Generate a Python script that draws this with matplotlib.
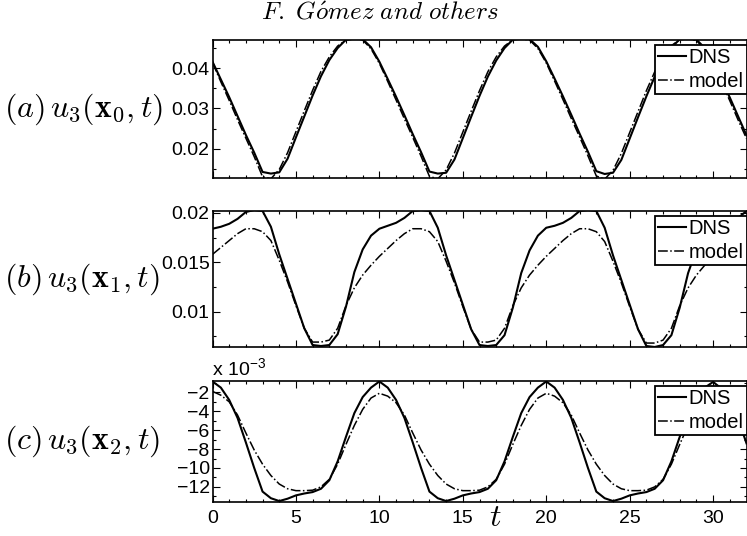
import numpy as np
import matplotlib
matplotlib.use("Agg")
import matplotlib.pyplot as plt
from matplotlib.ticker import MultipleLocator, FormatStrFormatter, FuncFormatter

plt.rcParams['font.family'] = ['Liberation Sans', 'DejaVu Sans']
plt.rcParams['mathtext.fontset'] = 'cm'
plt.rcParams['axes.unicode_minus'] = True

# time samples
t = np.arange(0, 32.5, 0.5)

# (a) probe x0
dns_a = [0.0416,
         0.0372, 0.0328, 0.0281, 0.0234, 0.0190, 0.0142, 0.0138, 0.0141, 0.0175, 0.0228,
         0.0280, 0.0332, 0.0380, 0.0420, 0.0450, 0.0471, 0.0473, 0.0472, 0.0452, 0.0416,
         0.0373, 0.0329, 0.0283, 0.0236, 0.0191, 0.0143, 0.0138, 0.0140, 0.0173, 0.0226,
         0.0279, 0.0331, 0.0379, 0.0419, 0.0450, 0.0471, 0.0473, 0.0472, 0.0453, 0.0417,
         0.0374, 0.0330, 0.0284, 0.0237, 0.0192, 0.0144, 0.0137, 0.0140, 0.0172, 0.0225,
         0.0278, 0.0330, 0.0379, 0.0420, 0.0451, 0.0472, 0.0473, 0.0471, 0.0450, 0.0414,
         0.0371, 0.0327, 0.0280, 0.0233]
model_a = [0.0414,
           0.0366, 0.0320, 0.0272, 0.0226, 0.0180, 0.0130, 0.0125, 0.0148, 0.0190, 0.0242,
           0.0294, 0.0345, 0.0392, 0.0428, 0.0455, 0.0470, 0.0473, 0.0470, 0.0448, 0.0412,
           0.0367, 0.0321, 0.0274, 0.0228, 0.0181, 0.0131, 0.0125, 0.0147, 0.0189, 0.0241,
           0.0293, 0.0344, 0.0391, 0.0428, 0.0455, 0.0471, 0.0473, 0.0470, 0.0449, 0.0413,
           0.0368, 0.0322, 0.0275, 0.0229, 0.0182, 0.0132, 0.0124, 0.0146, 0.0188, 0.0240,
           0.0292, 0.0344, 0.0391, 0.0429, 0.0456, 0.0471, 0.0473, 0.0469, 0.0446, 0.0410,
           0.0365, 0.0319, 0.0271, 0.0225]

# (b) probe x1
dns_b = [0.0184,
         0.0186, 0.0189, 0.0194, 0.0201, 0.0203, 0.0202, 0.0186, 0.0158, 0.0133, 0.0108,
         0.0083, 0.0066, 0.0065, 0.0066, 0.0077, 0.0105, 0.0140, 0.0163, 0.0177, 0.0184,
         0.0187, 0.0190, 0.0195, 0.0202, 0.0203, 0.0202, 0.0185, 0.0157, 0.0132, 0.0107,
         0.0082, 0.0066, 0.0065, 0.0066, 0.0076, 0.0104, 0.0139, 0.0162, 0.0177, 0.0185,
         0.0187, 0.0190, 0.0195, 0.0202, 0.0203, 0.0202, 0.0185, 0.0157, 0.0132, 0.0107,
         0.0082, 0.0065, 0.0064, 0.0066, 0.0076, 0.0104, 0.0139, 0.0163, 0.0178, 0.0185,
         0.0187, 0.0190, 0.0195, 0.0202]
model_b = [0.0158,
           0.0165, 0.0172, 0.0179, 0.0184, 0.0184, 0.0181, 0.0172, 0.0152, 0.0130, 0.0106,
           0.0083, 0.0069, 0.0069, 0.0071, 0.0083, 0.0106, 0.0124, 0.0137, 0.0147, 0.0156,
           0.0164, 0.0172, 0.0179, 0.0184, 0.0184, 0.0181, 0.0171, 0.0151, 0.0129, 0.0105,
           0.0082, 0.0069, 0.0069, 0.0071, 0.0083, 0.0106, 0.0124, 0.0137, 0.0147, 0.0156,
           0.0164, 0.0172, 0.0179, 0.0184, 0.0184, 0.0181, 0.0171, 0.0151, 0.0129, 0.0105,
           0.0082, 0.0068, 0.0068, 0.0071, 0.0083, 0.0106, 0.0124, 0.0137, 0.0147, 0.0156,
           0.0164, 0.0172, 0.0179, 0.0184]

# (c) probe x2, in units of 1e-3
dns_c = [-0.85,
         -1.5, -2.8, -4.7, -7.3, -10.0, -12.5, -13.2, -13.5, -13.25, -12.9,
         -12.7, -12.55, -12.2, -11.3, -9.3, -6.7, -4.2, -2.5, -1.5, -0.85,
         -1.5, -2.8, -4.7, -7.3, -10.0, -12.5, -13.2, -13.5, -13.25, -12.9,
         -12.7, -12.55, -12.2, -11.3, -9.3, -6.7, -4.2, -2.5, -1.5, -0.85,
         -1.5, -2.8, -4.7, -7.3, -10.0, -12.5, -13.2, -13.5, -13.25, -12.9,
         -12.7, -12.55, -12.2, -11.3, -9.3, -6.7, -4.2, -2.5, -1.5, -0.9,
         -1.6, -2.9, -4.8, -7.4]
model_c = [-1.9,
           -2.3, -3.0, -4.4, -6.3, -8.1, -9.6, -10.8, -11.7, -12.2, -12.4,
           -12.4, -12.35, -12.0, -11.2, -9.6, -7.5, -5.5, -3.8, -2.6, -2.1,
           -2.4, -3.1, -4.4, -6.3, -8.1, -9.6, -10.8, -11.7, -12.2, -12.4,
           -12.4, -12.35, -12.0, -11.2, -9.6, -7.5, -5.5, -3.8, -2.6, -2.1,
           -2.4, -3.1, -4.4, -6.3, -8.1, -9.6, -10.8, -11.7, -12.2, -12.4,
           -12.4, -12.35, -12.0, -11.2, -9.6, -7.5, -5.5, -3.8, -2.6, -2.1,
           -2.4, -3.1, -4.4, -6.3]

labels = [r'$(a)\,u_3(\mathbf{x}_0,t)$', r'$(b)\,u_3(\mathbf{x}_1,t)$', r'$(c)\,u_3(\mathbf{x}_2,t)$']
ylims = [(0.0127, 0.0470), (0.0064, 0.0202), (-13.6, -0.8)]
ymajor = [0.01, 0.005, 2]
yminor = [0.005, 0.0025, 1]
panels = [(dns_a, model_a), (dns_b, model_b), (dns_c, model_c)]


def minus_int(v, pos):
    return '%d' % v if v >= 0 else '\u2212%d' % -v


W, H = 747, 536
fig = plt.figure(figsize=(W / 100, H / 100), dpi=100)

# axes boxes in pixels: (top, bottom)
boxes = [(40, 178), (211, 347), (381, 502)]
left, right = 212.5, 746.5

for i, ((dns, model), (top, bot)) in enumerate(zip(panels, boxes)):
    ax = fig.add_axes([left / W, 1 - bot / H, (right - left) / W, (bot - top) / H])
    ax.plot(t, dns, 'k-', lw=1.5, label='DNS')
    ax.plot(t, model, 'k-.', lw=1.1, label='model')
    ax.set_xlim(0, 32)
    ax.set_ylim(*ylims[i])
    ax.xaxis.set_major_locator(MultipleLocator(5))
    ax.xaxis.set_minor_locator(MultipleLocator(1))
    ax.yaxis.set_major_locator(MultipleLocator(ymajor[i]))
    ax.yaxis.set_minor_locator(MultipleLocator(yminor[i]))
    if i < 2:
        ax.yaxis.set_major_formatter(FormatStrFormatter('%g'))
        ax.set_xticklabels([])
    else:
        ax.yaxis.set_major_formatter(FuncFormatter(minus_int))
    ax.tick_params(which='both', direction='in', top=True, right=True,
                   labelsize=14, width=0.8)
    ax.tick_params(axis='y', pad=2)
    ax.tick_params(axis='x', pad=6)
    ax.tick_params(which='major', length=5)
    ax.tick_params(which='minor', length=2.5)
    for s in ax.spines.values():
        s.set_linewidth(1.2)
    leg = ax.legend(loc='upper right', bbox_to_anchor=(1.0, 1 - 5 / (bot - top)),
                    borderaxespad=0, fontsize=14.5, fancybox=False, framealpha=1,
                    edgecolor='black', handlelength=1.4, handletextpad=0.1,
                    borderpad=0.15, labelspacing=0.25)
    leg.get_frame().set_linewidth(1.3)
    fig.text(4 / W, 1 - (top + bot) / 2 / H, labels[i], fontsize=23,
             ha='left', va='center')

fig.text(212 / W, 1 - 376 / H, r'x 10$^{\mathregular{-3}}$', fontsize=14,
         ha='left', va='baseline')
fig.text(495 / W, 1 - 533 / H, r'$t$', fontsize=23, ha='center', va='bottom')
fig.text(380 / W, 1 - 12 / H,
         r'$\mathit{F.\ G}\acute{\mathit{o}}\mathit{mez\ and\ others}$',
         fontsize=18, ha='center', va='center')

fig.savefig('out.png', dpi=100)
